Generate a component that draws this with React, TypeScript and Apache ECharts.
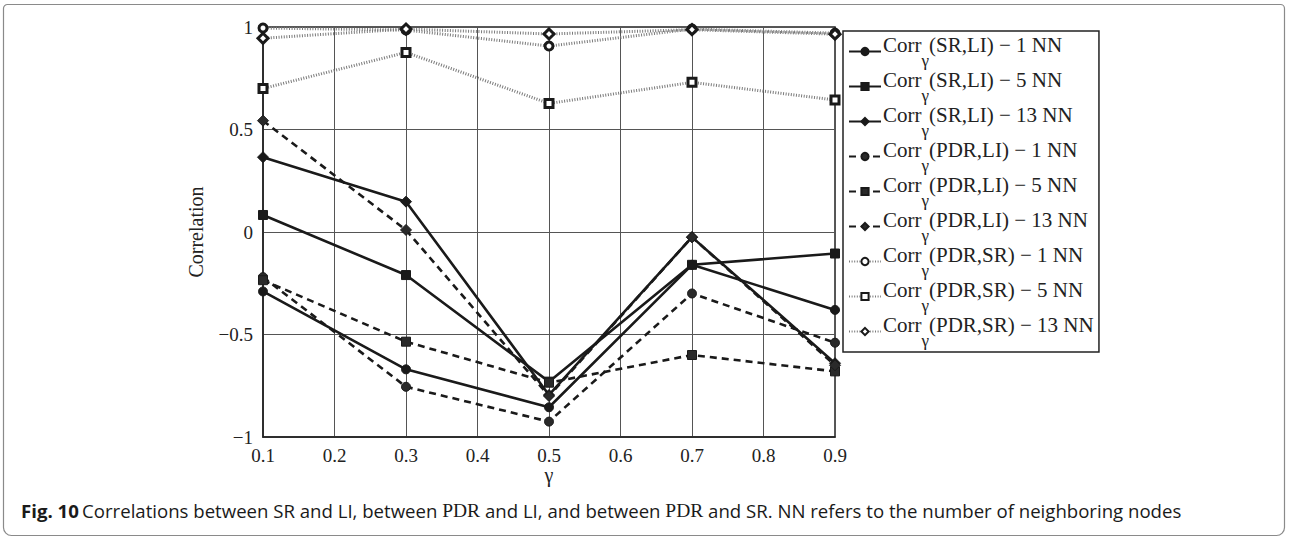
import React, { useEffect, useRef } from "react";
import * as echarts from "echarts";

const gammas = [0.1, 0.3, 0.5, 0.7, 0.9];
const srLi1 = [-0.29, -0.67, -0.855, -0.16, -0.38];
const srLi5 = [0.083, -0.21, -0.73, -0.16, -0.105];
const srLi13 = [0.365, 0.148, -0.795, -0.025, -0.64];
const pdrLi1 = [-0.22, -0.755, -0.925, -0.3, -0.54];
const pdrLi5 = [-0.235, -0.535, -0.735, -0.6, -0.68];
const pdrLi13 = [0.543, 0.01, -0.8, -0.025, -0.65];
const pdrSr1 = [0.995, 0.985, 0.907, 0.99, 0.97];
const pdrSr5 = [0.7, 0.876, 0.627, 0.73, 0.644];
const pdrSr13 = [0.945, 0.99, 0.966, 0.987, 0.965];

const seriesNames = [
  "Corrγ(SR,LI) − 1 NN",
  "Corrγ(SR,LI) − 5 NN",
  "Corrγ(SR,LI) − 13 NN",
  "Corrγ(PDR,LI) − 1 NN",
  "Corrγ(PDR,LI) − 5 NN",
  "Corrγ(PDR,LI) − 13 NN",
  "Corrγ(PDR,SR) − 1 NN",
  "Corrγ(PDR,SR) − 5 NN",
  "Corrγ(PDR,SR) − 13 NN",
];
const seriesValues = [srLi1, srLi5, srLi13, pdrLi1, pdrLi5, pdrLi13, pdrSr1, pdrSr5, pdrSr13];
const yTicks = [-1, -0.5, 0, 0.5, 1];

const SERIF = "'Liberation Serif', 'DejaVu Serif', serif";

export default function App() {
  const ref = useRef<HTMLDivElement>(null);
  useEffect(() => {
    document.body.style.margin = "0";
    const chart = echarts.init(ref.current!, null, { renderer: "svg" });
    const symbols = ["circle", "rect", "diamond"];
    const sizes = [9, 9, 11];
    const series = seriesValues.map((vals, i) => {
      const group = Math.floor(i / 3);
      const k = i % 3;
      let lineStyle: any;
      let itemStyle: any;
      let symbolSize = sizes[k];
      if (group === 0) {
        lineStyle = { color: "#1a1a1a", width: 2.6, type: "solid" };
        itemStyle = { color: "#1a1a1a", borderColor: "#1a1a1a", borderWidth: 1 };
      } else if (group === 1) {
        lineStyle = { color: "#1a1a1a", width: 2.6, type: [7, 5] };
        itemStyle = { color: "#2a2a2a", borderColor: "#1a1a1a", borderWidth: 1 };
      } else {
        lineStyle = { color: "#7a7a7a", width: 3, type: [1, 1.6] };
        itemStyle = { color: "#ffffff", borderColor: "#1a1a1a", borderWidth: 3 };
        symbolSize = k === 2 ? 10 : 8;
      }
      return {
        name: seriesNames[i],
        type: "line",
        data: gammas.map((g, j) => [g, vals[j]]),
        symbol: symbols[k],
        symbolSize,
        showSymbol: true,
        lineStyle,
        itemStyle,
        z: group === 2 ? 2 : 3,
      };
    });

    chart.setOption({
      animation: false,
      backgroundColor: "#ffffff",
      grid: {
        left: 263,
        right: 454,
        top: 27,
        bottom: 102,
        show: true,
        borderColor: "#222",
        borderWidth: 1.5,
        backgroundColor: "transparent",
      },
      xAxis: {
        type: "value",
        min: 0.1,
        max: 0.9,
        interval: 0.1,
        name: "γ",
        nameLocation: "middle",
        nameGap: 32,
        nameMoveOverlap: false,
        nameTextStyle: { fontFamily: SERIF, fontSize: 20, lineHeight: 12, color: "#222" },
        axisLine: { show: true, onZero: false, lineStyle: { color: "#222", width: 1.5 } },
        axisTick: { show: false },
        axisLabel: {
          fontFamily: SERIF,
          fontSize: 19,
          lineHeight: 16,
          color: "#222",
          margin: 10,
          formatter: (v: number) => v.toFixed(1),
        },
        splitLine: { show: true, lineStyle: { color: "#555", width: 1 } },
      },
      yAxis: {
        type: "value",
        min: -1,
        max: 1,
        interval: 0.5,
        name: "Correlation",
        nameLocation: "middle",
        nameGap: 57,
        nameRotate: 90,
        nameTextStyle: { fontFamily: SERIF, fontSize: 20, color: "#222" },
        axisLine: { show: true, onZero: false, lineStyle: { color: "#222", width: 1.5 } },
        axisTick: { show: false },
        axisLabel: {
          fontFamily: SERIF,
          fontSize: 19,
          color: "#222",
          margin: 10,
          formatter: (v: number) => {
            const t = yTicks.find((y) => Math.abs(y - v) < 1e-9);
            const val = t === undefined ? v : t;
            return val === 0 ? "0" : String(val).replace("-", "−");
          },
        },
        splitLine: { show: true, lineStyle: { color: "#555", width: 1 } },
      },
      legend: {
        orient: "vertical",
        left: 843,
        top: 31,
        itemGap: 0,
        itemWidth: 32,
        itemHeight: 9,
        padding: [3, 5, 3, 5],
        borderColor: "#222",
        borderWidth: 1.5,
        backgroundColor: "#fff",
        data: seriesNames,
        formatter: (name: string) => {
          const [a, b] = name.split("γ");
          return `{m|${a}}{s|γ}{m|${b}}{h| }`;
        },
        textStyle: {
          color: "#222",
          fontFamily: SERIF,
          fontSize: 21,
          padding: [0, 0, 0, -3],
          rich: {
            m: { fontFamily: SERIF, fontSize: 21, lineHeight: 33, verticalAlign: "top", color: "#222" },
            s: { fontFamily: SERIF, fontSize: 17, lineHeight: 25, verticalAlign: "bottom", color: "#222" },
            h: { fontSize: 1, lineHeight: 35, width: 0 },
          },
        },
      },
      graphic: [
        {
          type: "rect",
          shape: { x: 3.5, y: 4.5, width: 1281, height: 531, r: [4, 4, 8, 8] },
          style: { fill: "none", stroke: "#8a8a8a", lineWidth: 1.2 },
          silent: true,
          z: -10,
        },
        {
          type: "text",
          left: 21,
          top: 500,
          style: {
            text:
              "{b|Fig. 10} {r|Correlations between SR and LI, between }{p|PDR}{r| and LI, and between }{p|PDR}{r| and SR. NN refers to the number of neighboring nodes}",
            rich: {
              b: { fontFamily: "'Open Sans', sans-serif", fontWeight: "bold", fontSize: 18.6, fill: "#1a1a1a" },
              r: { fontFamily: "'Open Sans', sans-serif", fontSize: 18.6, fill: "#1a1a1a" },
              p: { fontFamily: SERIF, fontSize: 19.5, fill: "#1a1a1a" },
            },
          },
        },
      ],
      series,
    });
    return () => chart.dispose();
  }, []);
  return <div ref={ref} style={{ width: 1289, height: 539 }} />;
}
